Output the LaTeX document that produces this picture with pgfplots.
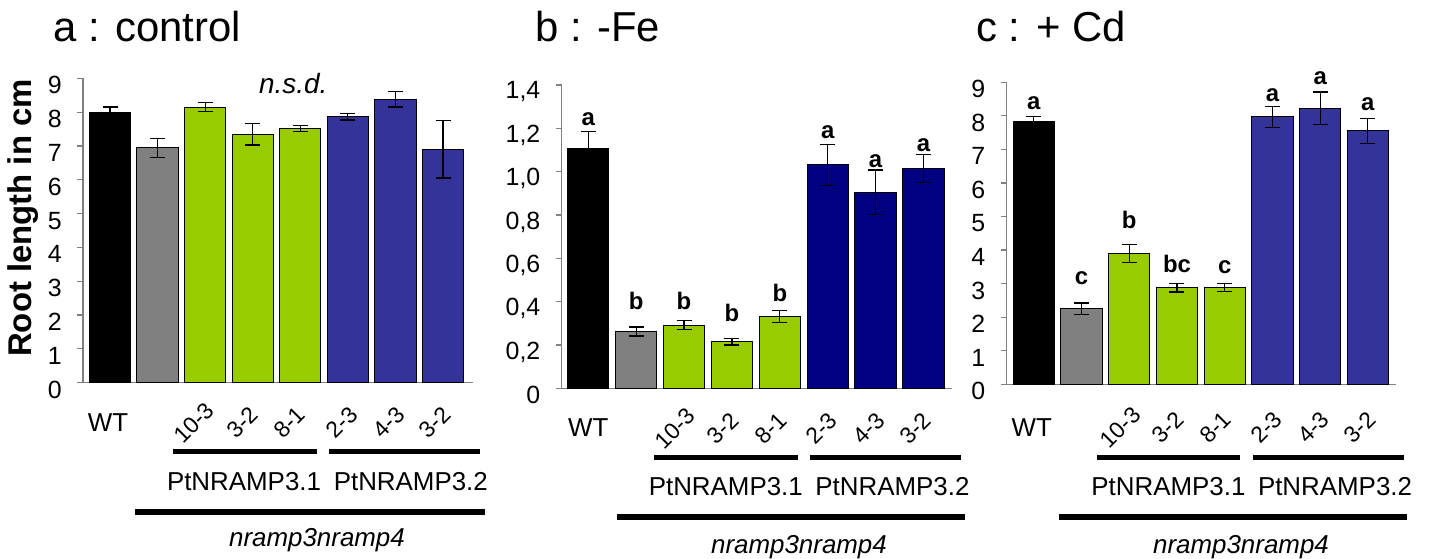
\documentclass[border=0pt]{standalone}
\usepackage{pgfplots}
\pgfplotsset{compat=1.18}
\usepackage{fontspec}
\setmainfont{Liberation Sans}
\usetikzlibrary{calc}
\definecolor{axgray}{RGB}{128,128,128}
\definecolor{cgreen}{RGB}{153,204,0}
\definecolor{cblue}{RGB}{51,51,153}
\definecolor{cnavy}{RGB}{0,0,128}
\definecolor{cgray}{RGB}{128,128,128}
\newcommand{\fsz}[1]{\fontsize{#1}{#1}\selectfont}
\pgfplotsset{
  panel/.style={scale only axis, axis x line*=bottom, axis y line*=left,
    xtick=\empty, ymin=0, clip=false,
    axis line style={draw=axgray, line width=0.6bp},
    ytick style={draw=axgray, line width=0.6bp},
    tick align=outside, major tick length=3bp,
    yticklabel style={font=\fsz{12.5}, inner sep=0pt, xshift=-7.5bp, yshift=-3.5bp}},
  bars/.style={ybar, bar width=20.65bp, draw=black, line width=0.5bp,
    error bars/y dir=both, error bars/y explicit,
    error bars/error bar style={black, line width=0.6bp},
    error bars/error mark options={rotate=90, mark size=3.75bp, black, line width=0.6bp}},
}
\tikzset{
  lett/.style={font=\bfseries\fsz{12}, anchor=base, inner sep=0pt},
  rotl/.style={font=\fsz{11.5}, rotate=45, anchor=center, inner sep=0pt},
}
\begin{document}
\begin{tikzpicture}
\path[use as bounding box] (0,0) rectangle (715.5bp,-279.5bp);
% titles
\node[anchor=base west, inner sep=0pt, font=\fsz{21}] at (26.5bp,-20.85bp) {a : control};
\node[anchor=base west, inner sep=0pt, font=\fsz{21}] at (267.5bp,-20.85bp) {b : -Fe};
\node[anchor=base west, inner sep=0pt, font=\fsz{21}] at (488bp,-20.85bp) {c : + Cd};
\node[rotate=90, font=\bfseries\fsz{16.5}, inner sep=0pt] at (11.5bp,-109bp) {Root length in cm};

% ---------- panel a ----------
\begin{axis}[panel, at={(41.5bp,-191.35bp)}, anchor=south west,
  width=195bp, height=152.2bp, xmin=-0.568, xmax=7.63, ymax=9,
  ytick={0,1,2,3,4,5,6,7,8,9}, yticklabels={0,1,2,3,4,5,6,7,8,9}]
\addplot[bars, fill=black] coordinates {(0,7.99) +- (0,0.16)};
\addplot[bars, fill=cgray] coordinates {(1,6.95) +- (0,0.28)};
\addplot[bars, fill=cgreen] coordinates {(2,8.15) +- (0,0.14) (3,7.35) +- (0,0.32) (4,7.52) +- (0,0.09)};
\addplot[bars, fill=cblue] coordinates {(5,7.87) +- (0,0.10) (6,8.38) +- (0,0.23) (7,6.90) +- (0,0.85)};
\node[font=\itshape\fsz{14}, anchor=base, inner sep=0pt] at (axis cs:3.85,8.56) {n.s.d.};
\node[font=\fsz{13}, inner sep=0pt] at ($(axis cs:0,0)+(-1bp,-19.7bp)$) {WT};
\node[rotl] at ($(axis cs:2,0)+(-5.5bp,-20bp)$) {10-3};
\node[rotl] at ($(axis cs:3,0)+(-5.3bp,-20bp)$) {3-2};
\node[rotl] at ($(axis cs:4,0)+(-5.5bp,-20bp)$) {8-1};
\node[rotl] at ($(axis cs:5,0)+(-3bp,-20bp)$) {2-3};
\node[rotl] at ($(axis cs:6,0)+(-3.3bp,-20bp)$) {4-3};
\node[rotl] at ($(axis cs:7,0)+(-4bp,-20bp)$) {3-2};
\end{axis}
\draw[line width=2.5bp] (86.5bp,-225.85bp) -- (158.5bp,-225.85bp);
\draw[line width=2.5bp] (164.5bp,-225.85bp) -- (240bp,-225.85bp);
\node[anchor=base west, inner sep=0pt, font=\fsz{13}] at (83.3bp,-245bp) {PtNRAMP3.1};
\node[anchor=base west, inner sep=0pt, font=\fsz{13}] at (166.7bp,-245bp) {PtNRAMP3.2};
\draw[line width=2.75bp] (67.5bp,-256bp) -- (242.5bp,-256bp);
\node[anchor=base, inner sep=0pt, font=\itshape\fsz{13}] at (158.5bp,-273.3bp) {nramp3nramp4};

% ---------- panel b ----------
\begin{axis}[panel, at={(280.85bp,-194.15bp)}, anchor=south west,
  width=195bp, height=151.65bp, xmin=-0.555, xmax=7.59, ymax=1.4,
  ytick={0,0.2,0.4,0.6,0.8,1.0,1.2,1.4},
  yticklabels={0,{0,2},{0,4},{0,6},{0,8},{1,0},{1,2},{1,4}}]
\addplot[bars, fill=black] coordinates {(0,1.105) +- (0,0.08)};
\addplot[bars, fill=cgray] coordinates {(1,0.262) +- (0,0.021)};
\addplot[bars, fill=cgreen] coordinates {(2,0.292) +- (0,0.02) (3,0.215) +- (0,0.015) (4,0.332) +- (0,0.028)};
\addplot[bars, fill=cnavy] coordinates {(5,1.031) +- (0,0.095) (6,0.905) +- (0,0.103) (7,1.015) +- (0,0.065)};
\node[lett] at (axis cs:0,1.214) {a};
\node[lett] at (axis cs:1,0.362) {b};
\node[lett] at (axis cs:2,0.362) {b};
\node[lett] at (axis cs:3,0.308) {b};
\node[lett] at (axis cs:4,0.400) {b};
\node[lett] at (axis cs:5,1.154) {a};
\node[lett] at (axis cs:6,1.020) {a};
\node[lett] at (axis cs:7,1.095) {a};
\node[font=\fsz{13}, inner sep=0pt] at ($(axis cs:0,0)+(0bp,-19.4bp)$) {WT};
\node[rotl] at ($(axis cs:2,0)+(-4.5bp,-20bp)$) {10-3};
\node[rotl] at ($(axis cs:3,0)+(-4.5bp,-20bp)$) {3-2};
\node[rotl] at ($(axis cs:4,0)+(-4.5bp,-20bp)$) {8-1};
\node[rotl] at ($(axis cs:5,0)+(-3bp,-20bp)$) {2-3};
\node[rotl] at ($(axis cs:6,0)+(-3.3bp,-20bp)$) {4-3};
\node[rotl] at ($(axis cs:7,0)+(-4bp,-20bp)$) {3-2};
\end{axis}
\draw[line width=2.5bp] (327bp,-228.5bp) -- (399bp,-228.5bp);
\draw[line width=2.5bp] (405bp,-228.5bp) -- (480.5bp,-228.5bp);
\node[anchor=base west, inner sep=0pt, font=\fsz{13}] at (324.2bp,-247.5bp) {PtNRAMP3.1};
\node[anchor=base west, inner sep=0pt, font=\fsz{13}] at (407.5bp,-247.5bp) {PtNRAMP3.2};
\draw[line width=2.75bp] (308.5bp,-258.5bp) -- (482.5bp,-258.5bp);
\node[anchor=base, inner sep=0pt, font=\itshape\fsz{13}] at (399.5bp,-276.5bp) {nramp3nramp4};

% ---------- panel c ----------
\begin{axis}[panel, at={(503.35bp,-192.15bp)}, anchor=south west,
  width=194.65bp, height=151bp, xmin=-0.568, xmax=7.59, ymax=9,
  ytick={0,1,2,3,4,5,6,7,8,9}, yticklabels={0,1,2,3,4,5,6,7,8,9}]
\addplot[bars, fill=black] coordinates {(0,7.84) +- (0,0.14)};
\addplot[bars, fill=cgray] coordinates {(1,2.255) +- (0,0.17)};
\addplot[bars, fill=cgreen] coordinates {(2,3.90) +- (0,0.26) (3,2.88) +- (0,0.13) (4,2.88) +- (0,0.12)};
\addplot[bars, fill=cblue] coordinates {(5,7.97) +- (0,0.31) (6,8.23) +- (0,0.48) (7,7.55) +- (0,0.38)};
\node[lett] at (axis cs:0,8.20) {a};
\node[lett] at (axis cs:1,2.96) {c};
\node[lett] at (axis cs:2,4.65) {b};
\node[lett] at (axis cs:3,3.33) {bc};
\node[lett] at (axis cs:4,3.31) {c};
\node[lett] at (axis cs:5,8.42) {a};
\node[lett] at (axis cs:6,8.94) {a};
\node[lett] at (axis cs:7,8.16) {a};
\node[font=\fsz{13}, inner sep=0pt] at ($(axis cs:0,0)+(-1bp,-21.5bp)$) {WT};
\node[rotl] at ($(axis cs:2,0)+(-4.5bp,-21.5bp)$) {10-3};
\node[rotl] at ($(axis cs:3,0)+(-4.5bp,-21.5bp)$) {3-2};
\node[rotl] at ($(axis cs:4,0)+(-4.5bp,-21.5bp)$) {8-1};
\node[rotl] at ($(axis cs:5,0)+(-3bp,-21.5bp)$) {2-3};
\node[rotl] at ($(axis cs:6,0)+(-3.3bp,-21.5bp)$) {4-3};
\node[rotl] at ($(axis cs:7,0)+(-4bp,-21.5bp)$) {3-2};
\end{axis}
\draw[line width=2.5bp] (548.5bp,-228.5bp) -- (620bp,-228.5bp);
\draw[line width=2.5bp] (626.5bp,-228.5bp) -- (702bp,-228.5bp);
\node[anchor=base west, inner sep=0pt, font=\fsz{13}] at (545.5bp,-247.5bp) {PtNRAMP3.1};
\node[anchor=base west, inner sep=0pt, font=\fsz{13}] at (628.8bp,-247.5bp) {PtNRAMP3.2};
\draw[line width=2.75bp] (529.5bp,-258.5bp) -- (703.5bp,-258.5bp);
\node[anchor=base, inner sep=0pt, font=\itshape\fsz{13}] at (620.5bp,-276.5bp) {nramp3nramp4};
\end{tikzpicture}
\end{document}
